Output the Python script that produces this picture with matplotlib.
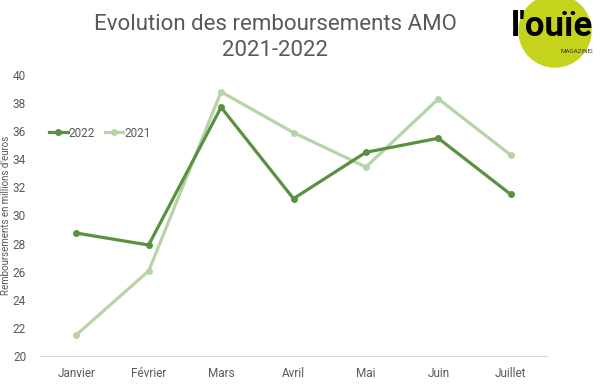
import numpy as np
import matplotlib.pyplot as plt
from matplotlib.patches import Circle

# data
mois = ['Janvier', 'Février', 'Mars', 'Avril', 'Mai', 'Juin', 'Juillet']
val2022 = [28.75, 27.9, 37.7, 31.2, 34.5, 35.5, 31.5]
val2021 = [21.5, 26.05, 38.8, 35.9, 33.45, 38.3, 34.3]

c2022 = '#5a9140'
c2021 = '#b7d4a8'
grey = '#595959'

plt.rcParams['font.family'] = ['Roboto', 'DejaVu Sans']

fig = plt.figure(figsize=(6, 3.84), dpi=100)
ax = fig.add_axes([40/600, 1-356/384, 507/600, 281/384])

x = np.arange(len(mois))
ax.plot(x, val2021, '-o', color=c2021, lw=2.3, ms=4, label='2021', zorder=2)
ax.plot(x, val2022, '-o', color=c2022, lw=2.3, ms=4, label='2022', zorder=3)

ax.set_xlim(-0.5, 6.5)
ax.set_ylim(20, 40)
ax.set_yticks(range(20, 41, 2))
ax.set_xticks(x)
ax.set_xticklabels(mois)
ax.tick_params(axis='both', length=0, labelsize=8.5, colors=grey)
ax.tick_params(axis='x', pad=8)
ax.tick_params(axis='y', pad=10)
for s in ['top', 'right', 'left']:
    ax.spines[s].set_visible(False)
ax.spines['bottom'].set_color('#d9d9d9')
ax.spines['bottom'].set_linewidth(0.8)
ax.set_ylabel("Remboursements en millions d'euros", fontsize=7, color=grey)
ax.yaxis.set_label_coords(-0.058, 0.5)

h, l = ax.get_legend_handles_labels()
fig.legend(h[::-1], l[::-1], loc='upper left', bbox_to_anchor=(38/600, 1-116/384), ncol=2,
           frameon=False, fontsize=8.5, handlelength=1.6, handletextpad=0.1,
           columnspacing=0.8, labelcolor=grey)

fig.text(275/600, 1-25/384, 'Evolution des remboursements AMO', ha='center', va='center',
         fontsize=16, color=grey)
fig.text(275/600, 1-51/384, '2021-2022', ha='center', va='center', fontsize=16, color=grey)

# logo
logo = fig.add_axes([0, 0, 1, 1], facecolor='none')
logo.set_xlim(0, 600)
logo.set_ylim(384, 0)
logo.axis('off')
logo.add_patch(Circle((555, 31), 36, color='#c6d31c', zorder=1))
logo.text(552, 27, "l'ouïe", ha='center', va='center', fontsize=25, color='black',
          fontweight='bold', zorder=2)
logo.text(577, 51, 'MAGAZINE|', ha='center', va='center', fontsize=4.5, color='#333333', zorder=2)

fig.savefig('out.png', dpi=100)
